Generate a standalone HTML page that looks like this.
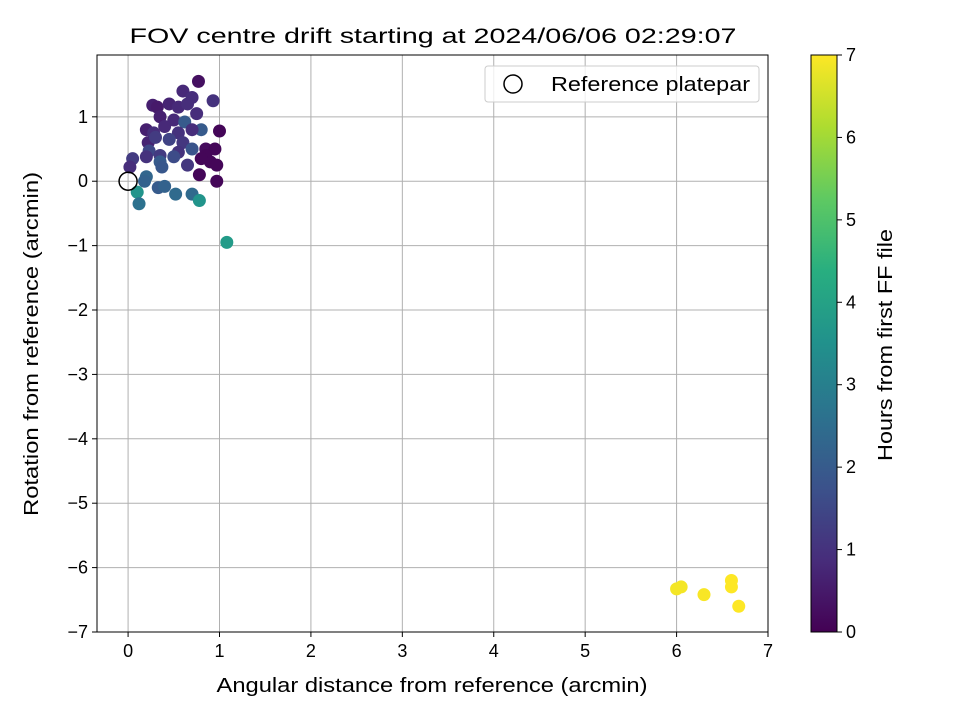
<!DOCTYPE html>
<html><head><meta charset="utf-8"><style>
body{margin:0;background:#fff}
svg{font-family:"Liberation Sans","DejaVu Sans",sans-serif}
</style></head><body>
<svg id="c" width="960" height="720" xmlns="http://www.w3.org/2000/svg">
<defs><linearGradient id="vg" x1="0" y1="1" x2="0" y2="0">
<stop offset="0" stop-color="#440154"/><stop offset="0.125" stop-color="#472d7b"/><stop offset="0.25" stop-color="#3b528b"/><stop offset="0.375" stop-color="#2c728e"/><stop offset="0.5" stop-color="#21918c"/><stop offset="0.625" stop-color="#28ae80"/><stop offset="0.75" stop-color="#5ec962"/><stop offset="0.875" stop-color="#addc30"/><stop offset="1" stop-color="#fde725"/></linearGradient></defs>
<text x="433" y="43" font-size="21" text-anchor="middle" textLength="607" lengthAdjust="spacingAndGlyphs">FOV centre drift starting at 2024/06/06 02:29:07</text>
<g id="grid"></g><g id="pts"></g><g id="axes"></g>
</svg>
<script>
const xs=[0.77,0.93,0.6,0.7,0.27,0.32,0.45,0.55,0.65,0.75,0.35,0.5,0.62,0.8,0.2,0.28,0.4,0.55,0.7,1.0,0.22,0.3,0.45,0.6,0.85,0.95,0.23,0.35,0.55,0.7,0.85,0.9,0.05,0.2,0.35,0.5,0.65,0.8,0.97,0.02,0.37,0.78,0.97,0.2,0.18,0.1,0.33,0.4,0.52,0.7,0.78,0.12,1.08,6.0,6.05,6.3,6.6,6.6,6.68];
const ys=[1.55,1.25,1.4,1.3,1.18,1.15,1.2,1.15,1.2,1.05,1.0,0.95,0.92,0.8,0.8,0.75,0.85,0.75,0.8,0.78,0.6,0.68,0.65,0.6,0.5,0.5,0.47,0.4,0.45,0.5,0.4,0.3,0.35,0.38,0.3,0.38,0.25,0.35,0.25,0.22,0.22,0.1,0.0,0.07,0.0,-0.17,-0.1,-0.08,-0.2,-0.2,-0.3,-0.35,-0.95,-6.33,-6.3,-6.42,-6.2,-6.3,-6.6];
const hours=[0.3,1.0,0.8,0.9,0.6,0.5,0.7,0.8,0.9,0.9,0.6,0.8,2.0,2.0,0.6,0.9,0.8,1.0,0.9,0.1,0.7,1.2,1.4,1.1,0.2,0.1,1.5,1.2,1.0,1.8,0.1,0.1,1.2,1.0,2.0,1.6,1.1,0.1,0.1,0.9,1.9,0.1,0.1,2.3,2.2,3.6,2.0,2.2,2.4,2.4,3.6,2.6,3.8,6.9,6.9,6.95,7,7,7];
const xTicks=[0,1,2,3,4,5,6,7];
const yTicks=[1,0,-1,-2,-3,-4,-5,-6,-7];
const cTicks=[0,1,2,3,4,5,6,7];
const L=97,R=768,T=55,B=632,xmin=-0.34,xmax=7,ymin=-7,ymax=1.96;
const X=v=>L+(v-xmin)/(xmax-xmin)*(R-L), Y=v=>B-(v-ymin)/(ymax-ymin)*(B-T);
const VS=["#440154","#472d7b","#3b528b","#2c728e","#21918c","#28ae80","#5ec962","#addc30","#fde725"].map(h=>[1,3,5].map(i=>parseInt(h.substr(i,2),16)));
function vir(t){t=Math.max(0,Math.min(1,t))*8;const i=Math.min(7,Math.floor(t)),f=t-i;return 'rgb('+VS[i].map((c,k)=>Math.round(c+(VS[i+1][k]-c)*f)).join(',')+')';}
const NS="http://www.w3.org/2000/svg";
function mk(p,tag,a){const e=document.createElementNS(NS,tag);for(const k in a)e.setAttribute(k,a[k]);p.appendChild(e);return e;}
const g=document.getElementById('grid'),P=document.getElementById('pts'),A=document.getElementById('axes');
xTicks.forEach(v=>{const l=mk(g,'line',{x1:X(v),x2:X(v),y1:T,y2:B,stroke:'#b0b0b0','stroke-width':1});


mk(A,'line',{x1:X(v),x2:X(v),y1:B,y2:B+5,stroke:'#000'});
const t=mk(A,'text',{x:X(v),y:B+25,'font-size':18,'text-anchor':'middle'});t.textContent=v;

});
yTicks.forEach(v=>{const l=mk(g,'line',{x1:L,x2:R,y1:Y(v),y2:Y(v),stroke:'#b0b0b0','stroke-width':1});


mk(A,'line',{x1:L-5,x2:L,y1:Y(v),y2:Y(v),stroke:'#000'});
const t=mk(A,'text',{x:L-9,y:Y(v)+6,'font-size':18,'text-anchor':'end'});t.textContent=(v<0?'\u2212'+(-v):v);

});
xs.forEach((x,i)=>{const c=mk(P,'circle',{cx:X(x),cy:Y(ys[i]),r:6.5,fill:vir(hours[i]/7)});

});
const ref=mk(P,'circle',{cx:X(0),cy:Y(0),r:9,fill:'none',stroke:'#000','stroke-width':1.5});


const fr=mk(A,'rect',{x:L,y:T,width:R-L,height:B-T,fill:'none',stroke:'#000','stroke-width':1});


const lg=mk(A,'g',{});


mk(lg,'rect',{x:485,y:66,width:274,height:36,rx:3,fill:'#fff','fill-opacity':0.8,stroke:'#ccc'});
mk(lg,'circle',{cx:513,cy:84,r:9,fill:'none',stroke:'#000','stroke-width':1.5});
const lt=mk(lg,'text',{x:551,y:91,'font-size':20,textLength:199,lengthAdjust:'spacingAndGlyphs'});lt.textContent='Reference platepar';
const xt=mk(A,'text',{x:432,y:692,'font-size':20,'text-anchor':'middle',textLength:431,lengthAdjust:'spacingAndGlyphs'});xt.textContent='Angular distance from reference (arcmin)';


const yt=mk(A,'text',{x:0,y:0,'font-size':20,'text-anchor':'middle',textLength:344,lengthAdjust:'spacingAndGlyphs',transform:'translate(38,344) rotate(-90)'});yt.textContent='Rotation from reference (arcmin)';


const CL=811,CR=837;
const cb=mk(A,'rect',{x:CL,y:T,width:CR-CL,height:B-T,fill:'url(#vg)',stroke:'#000','stroke-width':1});


cTicks.forEach(v=>{const y=B-v/7*(B-T);mk(A,'line',{x1:CR,x2:CR+5,y1:y,y2:y,stroke:'#000'});
const t=mk(A,'text',{x:CR+9,y:y+6,'font-size':18});t.textContent=v;

});
const ct=mk(A,'text',{x:0,y:0,'font-size':20,'text-anchor':'middle',textLength:232,lengthAdjust:'spacingAndGlyphs',transform:'translate(892,345) rotate(-90)'});ct.textContent='Hours from first FF file';


</script>
</body></html>
